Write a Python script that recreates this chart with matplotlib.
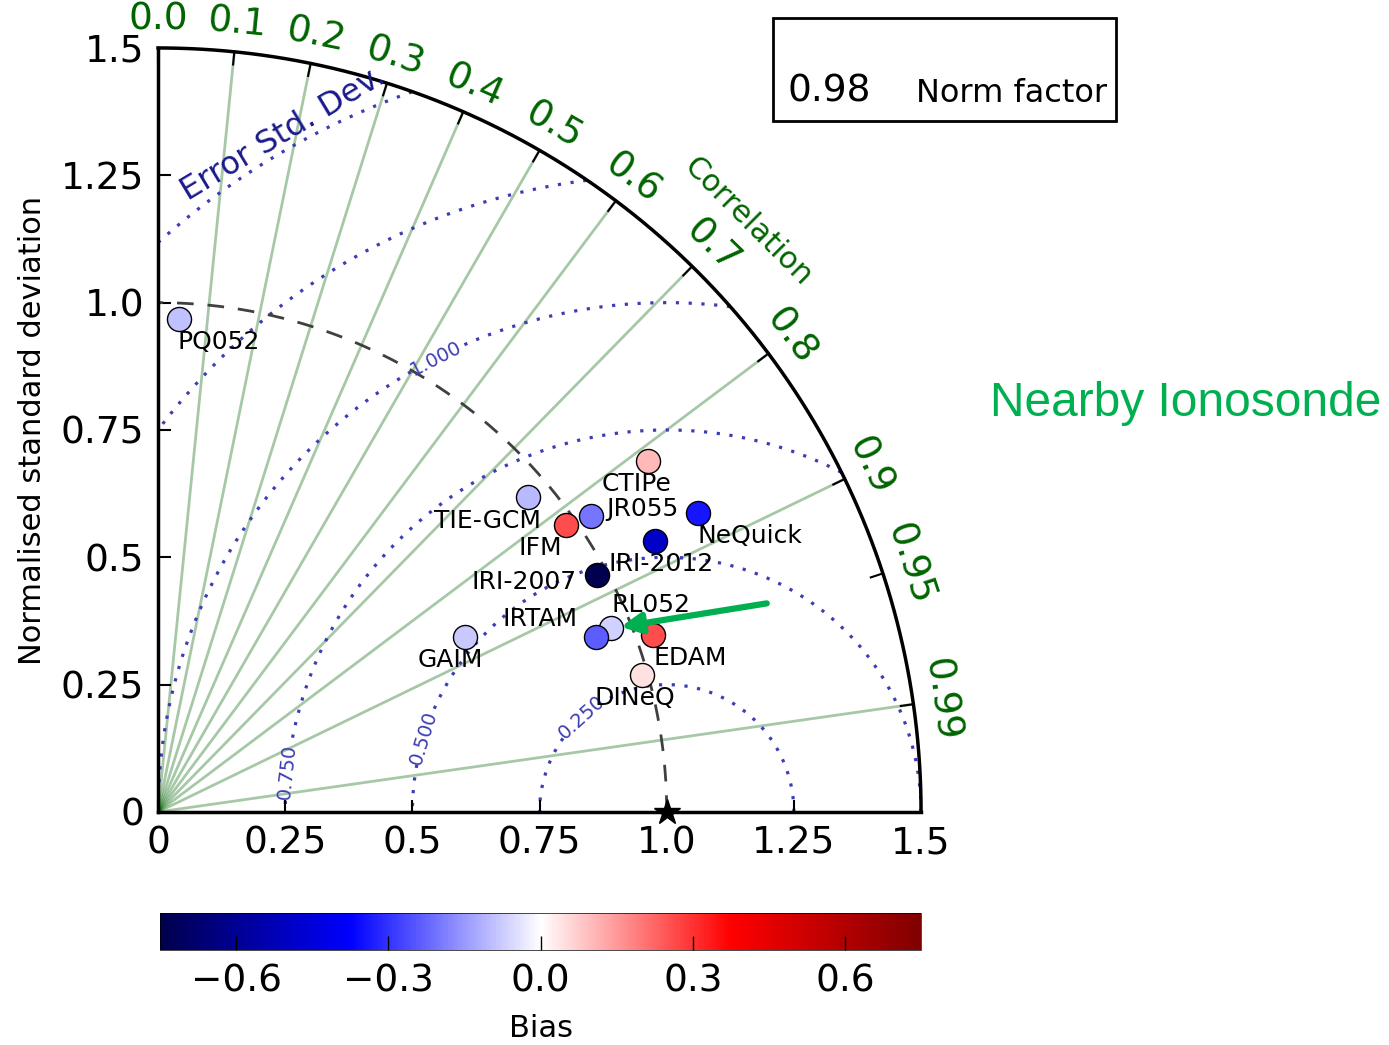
import numpy as np
import matplotlib
matplotlib.use('Agg')
import matplotlib.pyplot as plt
from matplotlib.patches import Rectangle

# данные: нормированное СКО, корреляция, смещение
models = ['PQ052', 'TIE-GCM', 'IFM', 'JR055', 'CTIPe', 'NeQuick', 'IRI-2012',
          'IRI-2007', 'RL052', 'IRTAM', 'EDAM', 'DINeQ', 'GAIM']
std_norm = [0.969, 0.954, 0.981, 1.030, 1.185, 1.214, 1.113,
            0.981, 0.961, 0.927, 1.033, 0.988, 0.695]
corr = [0.042, 0.762, 0.818, 0.826, 0.813, 0.875, 0.878,
        0.880, 0.927, 0.929, 0.942, 0.962, 0.869]
bias = [-0.09, -0.10, 0.26, -0.20, 0.10, -0.34, -0.49,
        -0.74, -0.07, -0.24, 0.26, 0.045, -0.08]

corr_ticks = [0.0, 0.1, 0.2, 0.3, 0.4, 0.5, 0.6, 0.7, 0.8, 0.9, 0.95, 0.99]
corr_lines = [0.1, 0.2, 0.3, 0.4, 0.5, 0.6, 0.7, 0.8, 0.9, 0.99]
rms_levels = [0.25, 0.5, 0.75, 1.0, 1.25, 1.5]
rms_labels = ['0.250', '0.500', '0.750', '1.000']
std_ticks = [0, 0.25, 0.5, 0.75, 1.0, 1.25, 1.5]
std_ticklabels = ['0', '0.25', '0.5', '0.75', '1.0', '1.25', '1.5']
norm_factor = 0.98
bias_ticks = [-0.6, -0.3, 0.0, 0.3, 0.6]

# смещения подписей (пункты)
label_off = {'PQ052': (29, -17), 'TIE-GCM': (-29, -17), 'IFM': (-19, -17),
             'JR055': (37, 5), 'CTIPe': (-8, -17), 'NeQuick': (37, -17),
             'IRI-2012': (4, -17), 'IRI-2007': (-53, -5), 'RL052': (29, 17),
             'IRTAM': (-40, 13), 'EDAM': (27, -16), 'DINeQ': (-5, -17),
             'GAIM': (-11, -17)}
rms_label_phi = [132, 163, 174, 117]

RMAX = 1.5
green = '#006400'
dotc = '#3c3cb4'

fig = plt.figure(figsize=(13.89, 10.45), dpi=100)
ax = fig.add_axes([0.1138, 0.2230, 0.5493, 0.7311])
ax.set_xlim(0, RMAX)
ax.set_ylim(0, RMAX)
for s in ['top', 'right']:
    ax.spines[s].set_visible(False)
for s in ['left', 'bottom']:
    ax.spines[s].set_linewidth(2.5)
ax.set_xticks(std_ticks)
ax.set_xticklabels(std_ticklabels)
ax.set_yticks(std_ticks)
ax.set_yticklabels(std_ticklabels)
ax.tick_params(direction='in', length=9, width=1.5, labelsize=27, pad=10)
ax.set_ylabel('Normalised standard deviation', fontsize=22, labelpad=10)

# внешняя дуга
th = np.linspace(0, np.pi/2, 300)
ax.plot(RMAX*np.cos(th), RMAX*np.sin(th), color='black', lw=2.5, clip_on=False, zorder=3)

# линии корреляции и подписи
for c in corr_lines:
    a = np.arccos(c)
    ax.plot([0, RMAX*np.cos(a)], [0, RMAX*np.sin(a)], color=green, alpha=0.35, lw=2, zorder=1)
for c in corr_ticks:
    a = np.arccos(c)
    ax.plot([1.475*np.cos(a), RMAX*np.cos(a)], [1.475*np.sin(a), RMAX*np.sin(a)],
            color='black', lw=1.5, clip_on=False, zorder=3)
    ax.text(1.555*np.cos(a), 1.555*np.sin(a), str(c), color=green, fontsize=27,
            rotation=np.degrees(a) - 90, ha='center', va='center', rotation_mode='anchor')
ax.text(1.64*np.cos(np.radians(45)), 1.64*np.sin(np.radians(45)), 'Correlation',
        color=green, fontsize=22, rotation=-45, ha='center', va='center', rotation_mode='anchor')

# изолинии СКО ошибки вокруг (1, 0)
phi = np.linspace(0, np.pi, 1500)
for k, lev in enumerate(rms_levels):
    xs = 1 + lev*np.cos(phi)
    ys = lev*np.sin(phi)
    mask = (xs**2 + ys**2 > RMAX**2) | (xs < 0)
    if k < len(rms_labels):
        pl = np.radians(rms_label_phi[k])
        gap = 0.055/lev
        mask |= np.abs(phi - pl) < gap
        ax.text(1 + lev*np.cos(pl), lev*np.sin(pl), rms_labels[k], color=dotc, fontsize=14,
                rotation=rms_label_phi[k] - 90, ha='center', va='center', rotation_mode='anchor')
    xs = np.where(mask, np.nan, xs)
    ax.plot(xs, ys, color=dotc, lw=2.3, dashes=(1, 3), zorder=1)
pe = np.radians(119.5)
ax.text(1 + 1.53*np.cos(pe), 1.53*np.sin(pe), 'Error Std. Dev.', color='#1a1a8c',
        fontsize=23, rotation=31, ha='center', va='center', rotation_mode='anchor')

# опорная дуга СКО = 1
ax.plot(np.cos(th), np.sin(th), color='#404040', lw=2, dashes=(6, 5), zorder=2)
ax.plot([1], [0], marker='*', color='black', markersize=19, clip_on=False, zorder=5)

# модели
std_a = np.array(std_norm)
ang = np.arccos(np.array(corr))
px = std_a*np.cos(ang)
py = std_a*np.sin(ang)
sc = None
for i, m in enumerate(models):
    sc = ax.scatter([px[i]], [py[i]], c=[bias[i]], cmap='seismic', vmin=-0.75, vmax=0.75,
                    s=300, edgecolors='black', linewidths=1, zorder=6)
    dx, dy = label_off[m]
    ax.annotate(m, (px[i], py[i]), xytext=(dx, dy), textcoords='offset points',
                ha='center', va='center', fontsize=18, zorder=7)

# стрелка на RL052
i = models.index('RL052')
ax.annotate('', xy=(px[i], py[i]), xytext=(112, 18), textcoords='offset points',
            arrowprops=dict(arrowstyle='-|>', color='#00b050', lw=4.5, mutation_scale=30,
                            shrinkA=0, shrinkB=7), zorder=8)

# цветовая шкала
cax = fig.add_axes([0.1152, 0.0909, 0.548, 0.0354])
cb = fig.colorbar(sc, cax=cax, orientation='horizontal')
cb.set_ticks(bias_ticks)
cb.ax.tick_params(direction='in', length=10, width=1, labelsize=27, pad=10)
cb.outline.set_linewidth(0.5)
cb.set_label('Bias', fontsize=22, labelpad=10)

# рамка с нормирующим множителем
fig.patches.append(Rectangle((0.5565, 0.8842), 0.247, 0.0986, transform=fig.transFigure,
                             fill=False, edgecolor='black', lw=2))
fig.text(0.5673, 0.9025, '%.2f' % norm_factor, fontsize=27, ha='left', va='baseline')
fig.text(0.6595, 0.9025, 'Norm factor', fontsize=23, ha='left', va='baseline')

fig.text(0.7127, 0.6134, 'Nearby Ionosonde', color='#00b050', fontsize=34.5,
         family='Liberation Sans', ha='left', va='center')

fig.savefig('out.png', dpi=100)
print('done')
